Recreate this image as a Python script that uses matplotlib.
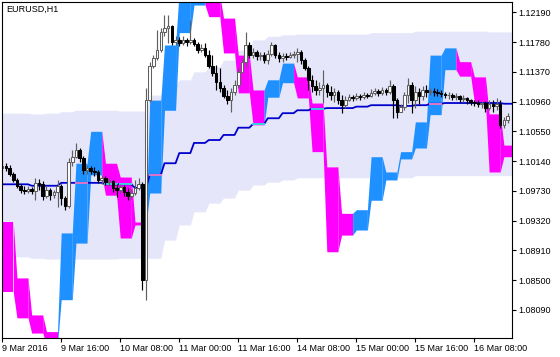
import numpy as np
import matplotlib
matplotlib.use("Agg")
import matplotlib.pyplot as plt

plt.rcParams['font.family'] = ['Liberation Sans', 'DejaVu Sans']

title = "EURUSD,H1"

# ---- H1 candles (open of first bar, then close/high/low per bar) ----
open0 = 1.1005
close = [1.1007, 1.1005, 1.0996, 1.0988, 1.0980, 1.0974, 1.0973, 1.0976, 1.0973, 1.0984,
         1.0982, 1.0966, 1.0974, 1.0967, 1.0971, 1.0980, 1.0963, 1.0952, 1.1013, 1.1020,
         1.1029, 1.1018, 1.1002, 1.1005, 1.1000, 1.0999, 1.0988, 1.0991, 1.0985, 1.0987,
         1.0977, 1.0974, 1.0978, 1.0971, 1.0966, 1.0970, 1.0977, 1.0982, 1.0850, 1.1098,
         1.1145, 1.1156, 1.1167, 1.1192, 1.1197, 1.1200, 1.1178, 1.1181, 1.1177, 1.1181,
         1.1178, 1.1181, 1.1175, 1.1167, 1.1170, 1.1160, 1.1145, 1.1135, 1.1123, 1.1115,
         1.1104, 1.1098, 1.1109, 1.1119, 1.1137, 1.1151, 1.1174, 1.1160, 1.1164, 1.1159,
         1.1160, 1.1153, 1.1162, 1.1174, 1.1160, 1.1156, 1.1159, 1.1157, 1.1160, 1.1162,
         1.1164, 1.1153, 1.1142, 1.1126, 1.1118, 1.1112, 1.1115, 1.1119, 1.1109, 1.1105,
         1.1109, 1.1098, 1.1091, 1.1098, 1.1102, 1.1101, 1.1104, 1.1102, 1.1105, 1.1104,
         1.1108, 1.1111, 1.1108, 1.1112, 1.1109, 1.1118, 1.1098, 1.1082, 1.1089, 1.1105,
         1.1119, 1.1098, 1.1109, 1.1104, 1.1112, 1.1109, 1.1111, 1.1109, 1.1108, 1.1107,
         1.1105, 1.1105, 1.1102, 1.1104, 1.1100, 1.1101, 1.1098, 1.1095, 1.1094, 1.1093,
         1.1094, 1.1087, 1.1093, 1.1090, 1.1093, 1.1064, 1.1071, 1.1076]
high = [1.1016, 1.1011, 1.1009, 1.0999, 1.0991, 1.0982, 1.0980, 1.0980, 1.0978, 1.0991,
        1.0989, 1.0987, 1.0980, 1.0977, 1.0974, 1.0988, 1.0982, 1.0966, 1.1018, 1.1029,
        1.1039, 1.1032, 1.1021, 1.1009, 1.1007, 1.1006, 1.1002, 1.0995, 1.0994, 1.0991,
        1.0988, 1.0982, 1.0982, 1.0981, 1.0977, 1.0976, 1.0988, 1.0991, 1.0985, 1.1115,
        1.1151, 1.1160, 1.1195, 1.1197, 1.1215, 1.1215, 1.1202, 1.1186, 1.1185, 1.1186,
        1.1184, 1.1208, 1.1184, 1.1178, 1.1175, 1.1177, 1.1167, 1.1160, 1.1146, 1.1142,
        1.1119, 1.1112, 1.1115, 1.1126, 1.1142, 1.1156, 1.1192, 1.1178, 1.1170, 1.1167,
        1.1164, 1.1164, 1.1167, 1.1178, 1.1175, 1.1164, 1.1163, 1.1163, 1.1164, 1.1166,
        1.1170, 1.1167, 1.1156, 1.1145, 1.1133, 1.1126, 1.1123, 1.1140, 1.1122, 1.1118,
        1.1115, 1.1112, 1.1105, 1.1104, 1.1107, 1.1105, 1.1108, 1.1107, 1.1109, 1.1108,
        1.1113, 1.1115, 1.1113, 1.1116, 1.1115, 1.1126, 1.1120, 1.1101, 1.1093, 1.1109,
        1.1129, 1.1123, 1.1118, 1.1115, 1.1118, 1.1119, 1.1115, 1.1115, 1.1113, 1.1112,
        1.1109, 1.1109, 1.1108, 1.1108, 1.1105, 1.1105, 1.1102, 1.1100, 1.1098, 1.1098,
        1.1097, 1.1097, 1.1098, 1.1098, 1.1101, 1.1098, 1.1075, 1.1080]
low = [1.1002, 1.1000, 1.0994, 1.0985, 1.0977, 1.0970, 1.0969, 1.0970, 1.0969, 1.0960,
       1.0974, 1.0960, 1.0963, 1.0960, 1.0963, 1.0951, 1.0954, 1.0947, 1.0949, 1.1007,
       1.1018, 1.1013, 1.0996, 1.0996, 1.0996, 1.0994, 1.0984, 1.0982, 1.0981, 1.0980,
       1.0971, 1.0965, 1.0970, 1.0966, 1.0960, 1.0962, 1.0967, 1.0974, 1.0836, 1.0823,
       1.1095, 1.1142, 1.1153, 1.1164, 1.1186, 1.1177, 1.1174, 1.1174, 1.1173, 1.1174,
       1.1173, 1.1175, 1.1173, 1.1163, 1.1164, 1.1157, 1.1142, 1.1131, 1.1112, 1.1109,
       1.1101, 1.1093, 1.1082, 1.1105, 1.1115, 1.1137, 1.1144, 1.1156, 1.1156, 1.1153,
       1.1153, 1.1149, 1.1148, 1.1159, 1.1156, 1.1151, 1.1151, 1.1153, 1.1156, 1.1156,
       1.1151, 1.1148, 1.1140, 1.1112, 1.1109, 1.1105, 1.1105, 1.1094, 1.1102, 1.1098,
       1.1095, 1.1093, 1.1080, 1.1087, 1.1097, 1.1097, 1.1098, 1.1098, 1.1100, 1.1101,
       1.1102, 1.1105, 1.1104, 1.1105, 1.1105, 1.1107, 1.1073, 1.1073, 1.1082, 1.1084,
       1.1094, 1.1080, 1.1087, 1.1093, 1.1098, 1.1102, 1.1105, 1.1104, 1.1104, 1.1102,
       1.1101, 1.1100, 1.1098, 1.1098, 1.1095, 1.1095, 1.1093, 1.1091, 1.1090, 1.1089,
       1.1087, 1.1082, 1.1084, 1.1082, 1.1084, 1.1060, 1.1060, 1.1067]

# ---- H4 indicator values (one per 4 H1 bars) ----
hist_top = [1.0930, 1.0853, 1.0802, 1.0779, 1.0915, 1.1011, 1.1055, 1.1011, 1.0992, 1.0930,
            1.1098, 1.1174, 1.1250, 1.1277, 1.1243, 1.1211, 1.1160, 1.1112, 1.1126, 1.1149,
            1.1130, 1.1094, 1.1006, 1.0942, 1.0947, 1.1020, 1.0999, 1.1027, 1.1068, 1.1160,
            1.1170, 1.1151, 1.1130, 1.1079, 1.1036]
hist_bot = [1.0834, 1.0798, 1.0777, 1.0761, 1.0823, 1.0901, 1.0995, 1.0967, 1.0908, 1.0926,
            1.0970, 1.1084, 1.1191, 1.1229, 1.1213, 1.1163, 1.1108, 1.1064, 1.1102, 1.1122,
            1.1101, 1.1027, 1.0889, 1.0912, 1.0919, 1.0960, 1.0988, 1.1017, 1.1032, 1.1078,
            1.1140, 1.1131, 1.1095, 1.0999, 1.1020]
ma = [1.0982, 1.0982, 1.0980, 1.0980, 1.0984, 1.0984, 1.0984, 1.0982, 1.0982, 1.0977,
      1.0995, 1.1011, 1.1025, 1.1039, 1.1043, 1.1050, 1.1060, 1.1065, 1.1073, 1.1080,
      1.1084, 1.1086, 1.1087, 1.1087, 1.1089, 1.1091, 1.1091, 1.1090, 1.1091, 1.1093,
      1.1094, 1.1094, 1.1094, 1.1094, 1.1093]
env_up = [1.1080, 1.1080, 1.1079, 1.1080, 1.1082, 1.1084, 1.1084, 1.1084, 1.1083, 1.1083,
          1.1105, 1.1119, 1.1126, 1.1137, 1.1144, 1.1153, 1.1167, 1.1181, 1.1186, 1.1188,
          1.1189, 1.1189, 1.1189, 1.1189, 1.1189, 1.1191, 1.1191, 1.1191, 1.1193, 1.1193,
          1.1193, 1.1193, 1.1193, 1.1192, 1.1192]
env_dn = [1.0882, 1.0882, 1.0880, 1.0879, 1.0879, 1.0879, 1.0879, 1.0879, 1.0880, 1.0880,
          1.0880, 1.0905, 1.0926, 1.0944, 1.0956, 1.0963, 1.0974, 1.0981, 1.0985, 1.0988,
          1.0991, 1.0991, 1.0991, 1.0991, 1.0991, 1.0991, 1.0991, 1.0991, 1.0994, 1.0994,
          1.0994, 1.0994, 1.0994, 1.0994, 1.0994]
h1_per_block = 4

# ---- axis labels ----
xtick_bars = [0, 16, 32, 48, 64, 80, 96, 112, 128]
xtick_labels = ["9 Mar 2016", "9 Mar 16:00", "10 Mar 08:00", "11 Mar 00:00", "11 Mar 16:00",
                "14 Mar 08:00", "15 Mar 00:00", "15 Mar 16:00", "16 Mar 08:00"]
ytick_vals = [1.12190, 1.11780, 1.11370, 1.10960, 1.10550, 1.10140, 1.09730,
              1.09320, 1.08910, 1.08500, 1.08090]

# colours
C_ENV = '#E6E6FA'
C_UP = '#1E90FF'
C_DN = '#FF00FF'
C_MA = '#0000CD'
C_MA_ON_UP = '#F07FC8'
C_MA_ON_DN = '#3FE0E0'

# ---------------------------------------------------------------
close = np.array(close)
high = np.array(high)
low = np.array(low)
n = len(close)
x = np.arange(n)
opens = np.concatenate([[open0], close[:-1]])
high = np.maximum(high, np.maximum(opens, close))
low = np.minimum(low, np.minimum(opens, close))

blk = x // h1_per_block
nb = len(ma)
ht = np.array(hist_top)[blk]
hb = np.array(hist_bot)[blk]
mab = np.array(ma)[blk]
eu = np.array(env_up)[blk]
ed = np.array(env_dn)[blk]

W, H = 560, 357
fig = plt.figure(figsize=(W / 100, H / 100), dpi=100)
fig.patch.set_facecolor('white')
ax = fig.add_axes([2 / W, 19 / H, 510 / W, 336 / H])
ax.set_facecolor('white')

xmin, xmax = -0.05, 138.2
ymin, ymax = 1.07702, 1.12332
ax.set_xlim(xmin, xmax)
ax.set_ylim(ymin, ymax)

xe = np.append(x, xmax)
def ext(a):
    return np.append(a, a[-1])

# envelope band
ax.fill_between(xe, ext(ed), ext(eu), color=C_ENV, lw=0, zorder=1)

# coloured H4 histogram blocks
mid = (np.array(hist_top) + np.array(hist_bot)) / 2
for k in range(nb):
    i0 = max(k * h1_per_block - 1, 0)
    i1 = min(k * h1_per_block + h1_per_block - 1, n - 1)
    xs = x[i0:i1 + 1].astype(float)
    ts = ht[i0:i1 + 1]
    bs = hb[i0:i1 + 1]
    if i1 == n - 1:
        xs = np.append(xs, xmax)
        ts = ext(ts)
        bs = ext(bs)
    up = k > 0 and mid[k] > mid[k - 1]
    ax.fill_between(xs, bs, ts, color=C_UP if up else C_DN, lw=0, zorder=2)

# moving average line
ax.plot(xe, ext(mab), color=C_MA, lw=1.3, zorder=3, solid_capstyle='butt')
for k in range(nb):
    if hist_bot[k] <= ma[k] <= hist_top[k]:
        up = k > 0 and mid[k] > mid[k - 1]
        i0 = k * h1_per_block
        i1 = min(i0 + h1_per_block - 1, n - 1)
        ax.plot([i0 - 0.3, i1 + 0.3], [ma[k], ma[k]],
                color=C_MA_ON_UP if up else C_MA_ON_DN, lw=1.3, zorder=3.5,
                solid_capstyle='butt')

# candles
bull = close >= opens
wick_col = np.where(bull, '#606060', 'black')
ax.vlines(x, low, high, colors=wick_col, lw=0.85, zorder=4)
body_lo = np.minimum(opens, close)
body_h = np.maximum(np.abs(close - opens), 0.00003)
ax.bar(x[bull], body_h[bull], bottom=body_lo[bull], width=0.7,
       facecolor='white', edgecolor='#606060', lw=0.75, zorder=5)
ax.bar(x[~bull], body_h[~bull], bottom=body_lo[~bull], width=0.7,
       facecolor='black', edgecolor='black', lw=0.75, zorder=5)

# axes / ticks
for s in ax.spines.values():
    s.set_color('black')
    s.set_linewidth(0.8)
    s.set_zorder(10)
ax.yaxis.tick_right()
ax.set_yticks(ytick_vals)
ax.set_yticklabels([f"{v:.5f}" for v in ytick_vals])
ax.set_xticks(xtick_bars)
ax.set_xticklabels(xtick_labels)
for lbl in ax.get_xticklabels():
    lbl.set_horizontalalignment('left')
ax.tick_params(axis='y', direction='out', length=3, width=0.8, pad=1.5,
               labelsize=6.5, colors='black')
ax.tick_params(axis='x', direction='out', length=3, width=0.8, pad=1.5,
               labelsize=6.5, colors='black')

fig.text(6 / W, 1 - 9.5 / H, title, ha='left', va='center', fontsize=6.5, color='black')

fig.savefig("out.png", dpi=100, facecolor='white')
